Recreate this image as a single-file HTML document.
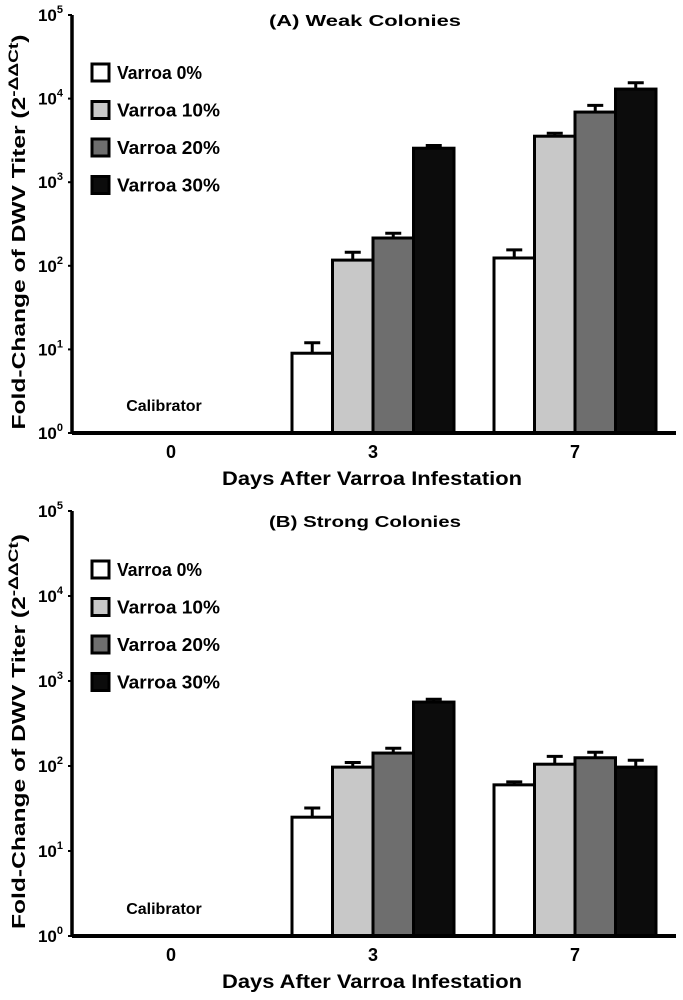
<!DOCTYPE html>
<html><head><meta charset="utf-8"><style>
body{margin:0;background:#fff;}
svg{display:block;font-family:"Liberation Sans",sans-serif;font-weight:bold;}
</style></head><body>
<svg id="s" width="683" height="1000" viewBox="0 0 683 1000"></svg>
<script>
const series = ["Varroa 0%","Varroa 10%","Varroa 20%","Varroa 30%"];
const days = ["0","3","7"];
const weakDay3 = [9, 117, 215, 2550];
const weakDay3Err = [12, 145, 245, 2750];
const weakDay7 = [124, 3550, 6900, 13000];
const weakDay7Err = [155, 3850, 8300, 15500];
const strongDay3 = [25, 97, 142, 565];
const strongDay3Err = [32, 110, 162, 610];
const strongDay7 = [60, 105, 125, 97];
const strongDay7Err = [65, 130, 145, 117];
const tickExp = [0,1,2,3,4,5];
const fills = ["#ffffff","#c8c8c8","#6e6e6e","#0c0c0c"];
const NS="http://www.w3.org/2000/svg";
const svg=document.getElementById('s');
function mk(tag,attrs,parent,text){const e=document.createElementNS(NS,tag);for(const k in attrs)e.setAttribute(k,attrs[k]);if(text!==undefined)e.textContent=text;(parent||svg).appendChild(e);return e;}
function panel(cfg){
  const g=mk('g',{});
  
  
  const x0=72,x1=676,y0=cfg.y0,dec=cfg.dec;
  const ys=v=>y0-Math.log10(v)*dec;
  const xs=i=>171+i*202;
  const ya=mk('line',{x1:x0,y1:y0,x2:x0,y2:y0-5*dec,stroke:'#000','stroke-width':3.5},g);
  
  
  tickExp.forEach(e=>{
    const y=y0-e*dec;
    const t=mk('text',{x:x0-9,y:y+6,'text-anchor':'end','font-size':17},g);
    
    
    t.appendChild(document.createTextNode('10'));
    mk('tspan',{dy:-8,'font-size':11},t,String(e));
    mk('line',{x1:x0-4,y1:y,x2:x0,y2:y,stroke:'#000','stroke-width':2},g);
  });
  const yt=mk('text',{x:0,y:0,transform:`translate(25,${y0-2.5*dec+8}) rotate(-90)`,'text-anchor':'middle','font-size':18,textLength:395,lengthAdjust:'spacingAndGlyphs'},g);
  
  
  yt.appendChild(document.createTextNode('Fold-Change of DWV Titer (2'));
  mk('tspan',{dy:-7,'font-size':14},yt,'-\u0394\u0394Ct');
  mk('tspan',{dy:7},yt,')');
  [[cfg.d3,cfg.d3e,1],[cfg.d7,cfg.d7e,2]].forEach(([vals,errs,di])=>{
    vals.forEach((v,i)=>{
      const bw=40.5;const bx=xs(di)-2*bw+i*bw;
      const top=ys(v),et=ys(errs[i]);
      const el=mk('line',{x1:bx+bw/2,y1:top,x2:bx+bw/2,y2:et,stroke:'#000','stroke-width':3},g);
      
      
      mk('line',{x1:bx+bw/2-8,y1:et,x2:bx+bw/2+8,y2:et,stroke:'#000','stroke-width':3},g);
      const r=mk('rect',{x:bx,y:top,width:bw,height:y0-top,fill:fills[i],stroke:'#000','stroke-width':3},g);
      
      
    });
  });
  const xa=mk('line',{x1:x0,y1:y0,x2:x1,y2:y0,stroke:'#000','stroke-width':4},g);
  
  
  days.forEach((d,i)=>{
    const t=mk('text',{x:xs(i),y:y0+25,'text-anchor':'middle','font-size':18},g,d);
    
    
  });
  const xt=mk('text',{x:372,y:y0+52,'text-anchor':'middle','font-size':19,textLength:300,lengthAdjust:'spacingAndGlyphs'},g,'Days After Varroa Infestation');
  
  
  const ti=mk('text',{x:365,y:cfg.ty,'text-anchor':'middle','font-size':16,textLength:192,lengthAdjust:'spacingAndGlyphs'},g,cfg.title);
  
  
  const ca=mk('text',{x:164,y:y0-22,'text-anchor':'middle','font-size':16},g,'Calibrator');
  
  
  series.forEach((s,i)=>{
    const cy=cfg.ly+i*37.5;
    const lg=mk('g',{},g);
    
    
    mk('rect',{x:92,y:cy-8,width:17,height:17,fill:fills[i],stroke:'#000','stroke-width':3},lg);
    mk('text',{x:117,y:cy+7,'font-size':18,textLength:[85,103,103,103][i],lengthAdjust:'spacingAndGlyphs'},lg,s);
  });
}
panel({name:'panel-a-weak',y0:433,dec:83.6,ty:26,title:'(A) Weak Colonies',ly:72,d3:weakDay3,d3e:weakDay3Err,d7:weakDay7,d7e:weakDay7Err});
panel({name:'panel-b-strong',y0:936,dec:85,ty:527,title:'(B) Strong Colonies',ly:569,d3:strongDay3,d3e:strongDay3Err,d7:strongDay7,d7e:strongDay7Err});
</script>
</body></html>
